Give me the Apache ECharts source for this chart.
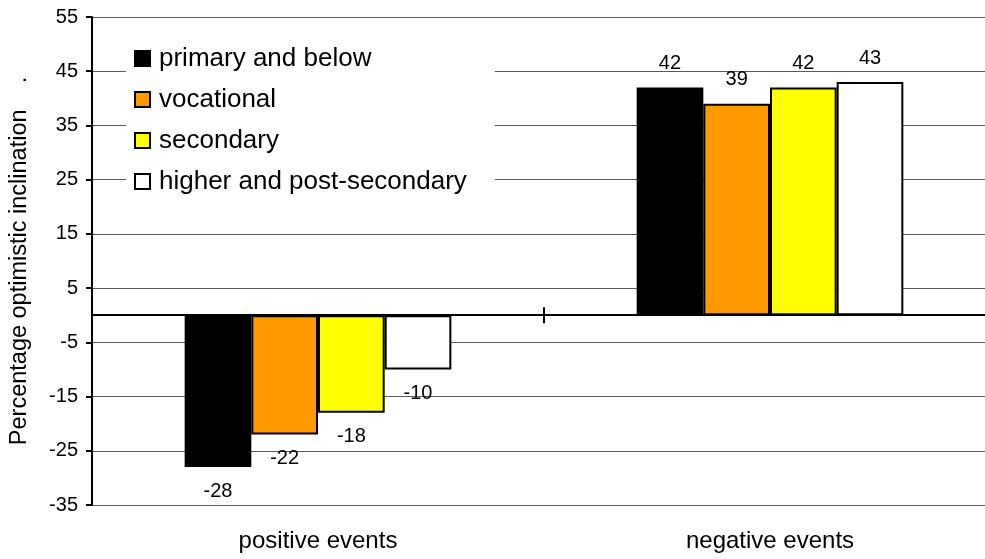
<!DOCTYPE html>
<html>
<head>
<meta charset="utf-8">
<title>Optimistic inclination by education</title>
<script src="https://cdn.jsdelivr.net/npm/echarts@6/dist/echarts.min.js"></script>
<style>
  html, body { margin: 0; padding: 0; background: #ffffff; }
  #chart { width: 985px; height: 559px; }
</style>
</head>
<body>
<div id="chart"></div>
<script>
// Event types on the category axis
const categories = ['positive events', 'negative events'];

// Education groups (legend order)
const groupNames = ['primary and below', 'vocational', 'secondary', 'higher and post-secondary'];

// Percentage optimistic inclination per group, [positive, negative]
const primaryBelow = [-28, 42];
const vocational = [-22, 39];
const secondary = [-18, 42];
const higherPostSecondary = [-10, 43];

// Value axis range and step
const yMin = -35;
const yMax = 55;
const yStep = 10;

const FONT = "'Liberation Sans', Arial, Helvetica, sans-serif";
const fills = ['#000000', '#ff9900', '#ffff00', '#ffffff'];
const seriesValues = [primaryBelow, vocational, secondary, higherPostSecondary];

// Labels sit beyond the end of each bar: above for gains, below for losses
function toItems(values) {
  return values.map(v => ({
    value: v,
    label: { position: v < 0 ? 'bottom' : 'top' }
  }));
}

const series = groupNames.map((name, i) => ({
  name: name,
  type: 'bar',
  xAxisIndex: 0,
  data: toItems(seriesValues[i]),
  barGap: '0%',
  barCategoryGap: '41%',
  itemStyle: { color: fills[i], borderColor: '#000000', borderWidth: 2 },
  label: {
    show: true,
    distance: 14,
    color: '#000000',
    fontFamily: FONT,
    fontSize: 20
  },
  emphasis: { disabled: true }
}));

const chart = echarts.init(document.getElementById('chart'), null, { renderer: 'canvas' });

chart.setOption({
  animation: false,
  backgroundColor: '#ffffff',
  textStyle: { fontFamily: FONT },
  // the plot runs a little past the right edge of the canvas
  grid: { left: 92, top: 17, width: 904, height: 488, outerBoundsMode: 'none' },
  legend: {
    orient: 'vertical',
    left: 126,
    top: 37,
    backgroundColor: '#ffffff',
    padding: [8, 28, 10, 8],
    itemWidth: 15,
    itemHeight: 15,
    itemGap: 14,
    icon: 'rect',
    textStyle: { fontFamily: FONT, fontSize: 26, color: '#000000', lineHeight: 27, padding: [0, 0, 0, 4] },
    data: groupNames
  },
  xAxis: [
    {
      // zero line with downward tick between the two groups
      type: 'category',
      data: categories,
      position: 'bottom',
      axisLine: { show: true, onZero: true, onZeroAxisIndex: 0, lineStyle: { color: '#000000', width: 2 } },
      axisTick: { show: true, length: 8, lineStyle: { color: '#000000', width: 2 } },
      axisLabel: { show: false },
      splitLine: { show: false }
    },
    {
      // category names along the bottom edge
      type: 'category',
      data: categories,
      position: 'bottom',
      axisLine: { show: false, onZero: false },
      axisTick: { show: false },
      axisLabel: { show: true, margin: 24, fontFamily: FONT, fontSize: 24, color: '#000000' },
      splitLine: { show: false }
    },
    {
      // upward half of the separator tick on the zero line
      type: 'category',
      data: categories,
      position: 'bottom',
      axisLine: { show: false, onZero: true, onZeroAxisIndex: 0 },
      axisTick: { show: true, inside: true, length: 8, lineStyle: { color: '#000000', width: 2 } },
      axisLabel: { show: false },
      splitLine: { show: false }
    }
  ],
  yAxis: {
    type: 'value',
    min: yMin,
    max: yMax,
    interval: yStep,
    name: 'Percentage optimistic inclination    .',
    nameLocation: 'middle',
    nameGap: 60,
    nameTextStyle: { fontFamily: FONT, fontSize: 23.5, color: '#000000' },
    axisLine: { show: true, lineStyle: { color: '#000000', width: 2 } },
    axisTick: { show: true, length: 6, lineStyle: { color: '#000000', width: 2 } },
    axisLabel: { margin: 14, fontFamily: FONT, fontSize: 20, color: '#000000' },
    splitLine: { show: true, lineStyle: { color: '#5a5a5a', width: 1 } }
  },
  series: series
});
</script>
</body>
</html>
